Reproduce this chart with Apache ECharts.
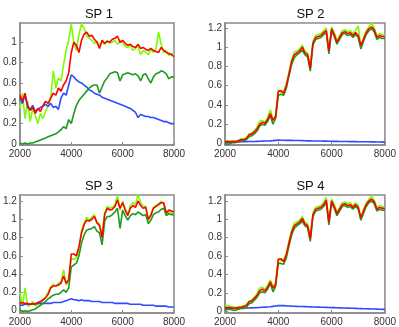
<!DOCTYPE html>
<html><head><meta charset="utf-8">
<script src="https://cdn.jsdelivr.net/npm/echarts@6/dist/echarts.min.js"></script>
<style>html,body{margin:0;padding:0;background:#fff}#c{width:399px;height:327px}</style>
</head><body><div id="c"></div>
<script>
var xs = [2000,2100,2200,2300,2400,2500,2600,2700,2800,2900,3000,3100,3200,3300,3400,3500,3600,3700,3800,3900,4000,4100,4200,4300,4400,4500,4600,4700,4800,4900,5000,5100,5200,5300,5400,5500,5600,5700,5800,5900,6000,6100,6200,6300,6400,6500,6600,6700,6800,6900,7000,7100,7200,7300,7400,7500,7600,7700,7800,7900,8000];
var titles = ["SP 1","SP 2","SP 3","SP 4"];
var xTicks = [2000,4000,6000,8000];
var yTicks1 = [0,0.2,0.4,0.6,0.8,1];
var yTicks2 = [0,0.2,0.4,0.6,0.8,1,1.2];

var sp1Red = [0.48,0.42,0.50,0.38,0.33,0.36,0.30,0.35,0.32,0.38,0.42,0.40,0.45,0.50,0.48,0.55,0.52,0.58,0.62,0.70,0.90,1.00,0.97,0.90,1.02,1.08,1.10,1.06,1.07,1.03,1.00,0.94,1.02,0.99,1.01,1.00,1.03,1.04,1.06,1.00,1.02,0.99,0.97,0.98,0.96,0.95,0.98,0.94,0.95,0.93,0.92,0.94,0.92,0.91,0.90,0.95,0.92,0.90,0.89,0.88,0.86];
var sp1Light = [0.35,0.50,0.25,0.42,0.22,0.35,0.28,0.20,0.30,0.25,0.32,0.38,0.45,0.72,0.55,0.65,0.62,0.78,0.92,1.02,1.18,1.00,0.92,1.08,1.18,1.14,1.06,1.04,1.02,0.99,1.01,0.97,1.00,0.98,1.02,0.99,1.00,1.02,0.98,1.01,1.00,0.96,0.95,0.97,0.92,0.94,0.96,0.88,0.92,0.90,0.88,0.93,0.90,0.94,1.10,0.98,0.90,0.92,0.87,0.89,0.88];
var sp1Dark = [0.01,0.00,0.01,0.00,0.01,0.01,0.02,0.03,0.04,0.05,0.06,0.07,0.08,0.09,0.10,0.12,0.14,0.17,0.15,0.24,0.20,0.30,0.38,0.43,0.46,0.49,0.52,0.55,0.57,0.58,0.58,0.50,0.56,0.62,0.65,0.69,0.70,0.71,0.70,0.62,0.68,0.69,0.70,0.69,0.68,0.69,0.67,0.62,0.68,0.69,0.64,0.60,0.66,0.69,0.70,0.72,0.71,0.69,0.64,0.66,0.66];
var sp1Blue = [0.45,0.40,0.48,0.36,0.34,0.38,0.32,0.34,0.36,0.37,0.39,0.37,0.40,0.36,0.37,0.34,0.45,0.50,0.48,0.58,0.68,0.66,0.63,0.61,0.60,0.58,0.56,0.53,0.52,0.50,0.49,0.48,0.46,0.45,0.44,0.43,0.42,0.41,0.40,0.39,0.38,0.37,0.36,0.35,0.33,0.31,0.26,0.29,0.28,0.27,0.27,0.26,0.26,0.25,0.24,0.23,0.22,0.22,0.21,0.20,0.20];

var sp2Red = [0.02,0.02,0.02,0.02,0.02,0.03,0.04,0.04,0.05,0.09,0.10,0.12,0.15,0.20,0.22,0.21,0.25,0.31,0.24,0.28,0.54,0.55,0.52,0.60,0.72,0.85,0.92,0.94,0.96,1.00,0.94,0.92,0.78,1.04,1.10,1.11,1.12,1.15,1.17,0.96,1.19,1.13,1.05,1.10,1.15,1.16,1.14,1.15,1.12,1.15,1.12,1.02,1.08,1.15,1.19,1.21,1.18,1.10,1.12,1.11,1.11];
var sp2Light = [0.03,0.03,0.02,0.03,0.02,0.03,0.05,0.05,0.06,0.10,0.11,0.13,0.17,0.23,0.24,0.22,0.27,0.35,0.25,0.29,0.56,0.53,0.54,0.62,0.74,0.87,0.95,0.96,0.98,1.02,0.96,0.94,0.80,1.06,1.12,1.13,1.14,1.17,1.20,0.95,1.21,1.15,1.07,1.12,1.17,1.18,1.16,1.17,1.14,1.17,1.22,1.00,1.10,1.17,1.21,1.25,1.20,1.12,1.14,1.13,1.12];
var sp2Dark = [0.00,-0.01,0.00,0.01,0.01,0.02,0.03,0.03,0.04,0.07,0.08,0.10,0.13,0.18,0.20,0.19,0.23,0.29,0.20,0.26,0.50,0.51,0.50,0.57,0.70,0.82,0.89,0.92,0.94,0.97,0.92,0.90,0.75,1.02,1.08,1.09,1.10,1.13,1.15,0.93,1.17,1.11,1.03,1.08,1.13,1.14,1.12,1.13,1.10,1.13,1.10,0.98,1.06,1.13,1.17,1.19,1.16,1.08,1.10,1.09,1.09];
var sp2Blue = [0.010,0.012,0.014,0.015,0.016,0.017,0.018,0.019,0.020,0.021,0.022,0.022,0.023,0.024,0.025,0.026,0.027,0.028,0.030,0.033,0.036,0.034,0.035,0.033,0.034,0.033,0.032,0.031,0.031,0.030,0.029,0.028,0.028,0.027,0.027,0.026,0.026,0.025,0.025,0.024,0.024,0.023,0.023,0.022,0.022,0.021,0.021,0.020,0.020,0.020,0.019,0.019,0.018,0.018,0.018,0.017,0.017,0.016,0.016,0.015,0.015];

var sp3Red = [0.08,0.09,0.08,0.08,0.07,0.08,0.07,0.09,0.10,0.12,0.14,0.18,0.25,0.27,0.27,0.28,0.30,0.38,0.30,0.34,0.62,0.62,0.60,0.70,0.85,0.94,0.99,0.98,1.00,1.03,0.96,0.93,0.80,1.05,1.12,1.10,1.11,1.14,1.21,1.12,1.18,1.10,1.04,1.12,1.15,1.13,1.20,1.15,1.12,1.13,1.00,1.04,1.12,1.14,1.16,1.18,1.18,1.07,1.10,1.09,1.08];
var sp3Light = [0.20,0.05,0.25,0.05,0.06,0.10,0.05,0.07,0.09,0.11,0.15,0.20,0.26,0.29,0.27,0.30,0.32,0.45,0.28,0.32,0.57,0.56,0.58,0.68,0.88,0.96,1.02,0.99,1.02,1.05,0.97,0.95,0.82,1.07,1.14,1.12,1.13,1.16,1.26,1.10,1.20,1.12,1.05,1.15,1.18,1.16,1.27,1.18,1.15,1.14,0.98,1.06,1.13,1.15,1.17,1.20,1.16,1.05,1.08,1.07,1.05];
var sp3Dark = [0.01,-0.01,0.00,-0.01,0.00,0.01,0.02,0.04,0.06,0.08,0.10,0.13,0.15,0.17,0.18,0.18,0.20,0.23,0.20,0.25,0.48,0.50,0.52,0.60,0.74,0.83,0.88,0.89,0.90,0.92,0.87,0.85,0.72,0.98,1.03,1.03,1.05,1.08,1.12,0.90,1.10,1.04,0.99,1.04,1.06,1.05,1.08,1.06,1.04,1.05,0.95,0.99,1.05,1.07,1.08,1.11,1.12,1.04,1.06,1.05,1.05];
var sp3Blue = [0.06,0.06,0.07,0.07,0.07,0.07,0.08,0.08,0.08,0.08,0.08,0.08,0.08,0.09,0.09,0.09,0.09,0.10,0.11,0.12,0.13,0.12,0.12,0.11,0.12,0.11,0.11,0.11,0.10,0.10,0.10,0.10,0.09,0.09,0.09,0.09,0.09,0.08,0.08,0.08,0.08,0.08,0.08,0.07,0.07,0.07,0.07,0.07,0.06,0.06,0.06,0.06,0.06,0.05,0.05,0.05,0.05,0.05,0.04,0.04,0.04];

var sp4Red = [0.04,0.04,0.04,0.03,0.03,0.04,0.04,0.05,0.06,0.10,0.11,0.14,0.17,0.22,0.24,0.22,0.26,0.32,0.25,0.29,0.56,0.57,0.54,0.61,0.74,0.86,0.93,0.95,0.97,1.01,0.95,0.93,0.79,1.05,1.11,1.12,1.13,1.16,1.21,0.97,1.20,1.14,1.06,1.11,1.16,1.17,1.15,1.16,1.13,1.16,1.13,1.02,1.09,1.16,1.20,1.22,1.19,1.11,1.13,1.12,1.12];
var sp4Light = [0.06,0.06,0.05,0.05,0.04,0.05,0.05,0.06,0.07,0.11,0.12,0.15,0.19,0.25,0.26,0.24,0.28,0.34,0.27,0.31,0.58,0.55,0.56,0.63,0.76,0.88,0.96,0.97,0.99,1.03,0.97,0.95,0.81,1.07,1.13,1.14,1.15,1.18,1.24,0.95,1.22,1.16,1.08,1.13,1.18,1.19,1.17,1.18,1.15,1.18,1.15,1.00,1.11,1.18,1.22,1.25,1.21,1.13,1.15,1.14,1.13];
var sp4Dark = [0.01,0.02,0.02,0.01,0.01,0.02,0.03,0.03,0.04,0.08,0.09,0.12,0.15,0.20,0.21,0.20,0.24,0.30,0.21,0.27,0.52,0.52,0.51,0.58,0.71,0.83,0.90,0.93,0.95,0.98,0.93,0.91,0.76,1.03,1.09,1.10,1.11,1.14,1.18,0.94,1.18,1.12,1.04,1.09,1.14,1.15,1.13,1.14,1.11,1.14,1.11,0.99,1.07,1.14,1.18,1.20,1.17,1.09,1.11,1.10,1.10];
var sp4Blue = [0.030,0.030,0.031,0.031,0.032,0.032,0.033,0.033,0.034,0.035,0.036,0.037,0.038,0.040,0.042,0.044,0.046,0.048,0.052,0.056,0.060,0.062,0.060,0.058,0.057,0.055,0.054,0.052,0.051,0.050,0.049,0.048,0.047,0.046,0.045,0.044,0.043,0.042,0.041,0.040,0.039,0.038,0.037,0.036,0.035,0.034,0.033,0.032,0.031,0.030,0.029,0.028,0.027,0.026,0.025,0.024,0.023,0.022,0.021,0.020,0.020];

var panels = [
  {light: sp1Light, blue: sp1Blue, dark: sp1Dark, red: sp1Red, ymin: -0.01, ymax: 1.19, yt: yTicks1, box: [14, 23, 160, 122]},
  {light: sp2Light, blue: sp2Blue, dark: sp2Dark, red: sp2Red, ymin: -0.015, ymax: 1.25, yt: yTicks2, box: [225, 23, 161, 122]},
  {light: sp3Light, blue: sp3Blue, dark: sp3Dark, red: sp3Red, ymin: -0.025, ymax: 1.265, yt: yTicks2, box: [14, 195, 160, 121]},
  {light: sp4Light, blue: sp4Blue, dark: sp4Dark, red: sp4Red, ymin: -0.02, ymax: 1.265, yt: yTicks2, box: [225, 195, 161, 121]}
];

var COL = {light: '#7cfc00', blue: '#2f4bff', dark: '#1f9a1f', red: '#ff0000'};
var FONT = 'Liberation Sans, Arial, sans-serif';
var AX = '#8a8a8a';

function pairs(ys){ return xs.map(function(x,i){ return [x, ys[i]]; }); }

var option = {animation: false, backgroundColor: '#fff', title: [], grid: [], xAxis: [], yAxis: [], series: []};
panels.forEach(function(p, k){
  var b = p.box;
  option.grid.push({left: b[0], top: b[1], width: b[2], height: b[3], show: true, borderColor: AX, borderWidth: 1.5, backgroundColor: '#fff'});
  option.title.push({text: titles[k], left: b[0] + b[2]/2, top: b[1] - 20, textAlign: 'center',
    textStyle: {fontFamily: FONT, fontSize: 13, fontWeight: 'normal', color: '#111'}});
  option.xAxis.push({type: 'value', gridIndex: k, min: 2000, max: 8000, interval: 2000,
    axisLine: {show: true, onZero: false, lineStyle: {color: AX, width: 1.5}},
    axisTick: {show: true, inside: true, length: 3, lineStyle: {color: AX}, customValues: xTicks},
    axisLabel: {fontFamily: FONT, fontSize: 10, color: '#333', margin: 4, showMinLabel: true, showMaxLabel: true, customValues: xTicks,
      formatter: function(v){ return String(Math.round(v)); }},
    splitLine: {show: false}});
  option.yAxis.push({type: 'value', gridIndex: k, min: p.ymin, max: p.ymax,
    axisLine: {show: true, onZero: false, lineStyle: {color: AX, width: 1.5}},
    axisTick: {show: true, inside: true, length: 3, lineStyle: {color: AX}, customValues: p.yt},
    axisLabel: {fontFamily: FONT, fontSize: 10, color: '#333', margin: 3, customValues: p.yt,
      formatter: function(v){ return String(Math.round(v*10)/10); }},
    splitLine: {show: false}});
  ['light','blue','dark','red'].forEach(function(key){
    option.series.push({type: 'line', xAxisIndex: k, yAxisIndex: k, data: pairs(p[key]),
      showSymbol: false, symbol: 'none', lineStyle: {color: COL[key], width: 1.6}, itemStyle: {color: COL[key]}, z: 3});
  });
});

var chart = echarts.init(document.getElementById('c'), null, {renderer: 'canvas'});
chart.setOption(option);
</script>
</body></html>
